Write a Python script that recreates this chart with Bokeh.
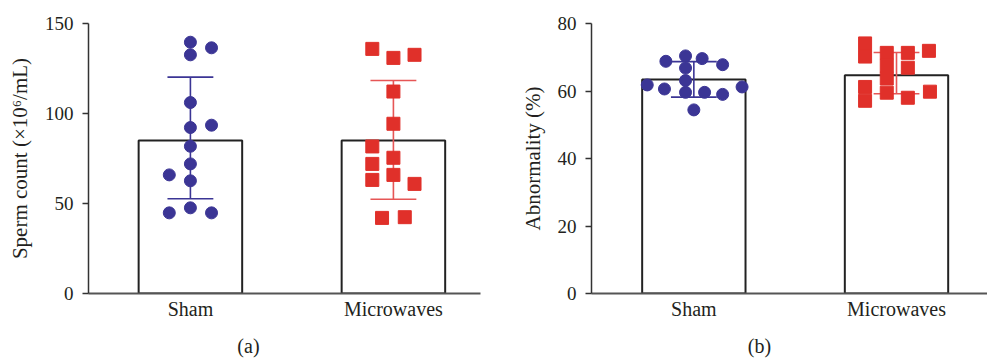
from bokeh.plotting import figure
from bokeh.layouts import row
from bokeh.models import LinearAxis, Range1d, FixedTicker
from bokeh.embed import file_html
from bokeh.resources import INLINE

groups = ["Sham", "Microwaves"]

# Panel (a) sperm count (x10^6/mL)
count_sham = [139.6, 136.5, 132.6, 106.1, 93.5, 92.2, 81.8, 72.0, 65.9, 62.6, 47.6, 44.8, 44.8]
count_micro = [135.9, 130.9, 132.6, 112.2, 94.3, 81.7, 72.0, 75.4, 63.1, 65.9, 60.9, 42.0, 42.4]
count_mean = [85.0, 85.0]
count_low = [52.6, 52.4]
count_high = [120.2, 118.3]

# Panel (b) abnormality (%)
abn_sham = [61.8, 68.8, 70.4, 69.6, 67.8, 66.8, 63.1, 60.6, 59.6, 59.6, 59.0, 61.2, 54.4]
abn_micro = [74.1, 70.2, 71.3, 67.5, 63.7, 59.5, 71.3, 66.9, 58.0, 71.9, 59.8, 61.2, 57.1]
abn_mean = [63.4, 64.7]
abn_low = [58.2, 59.2]
abn_high = [68.7, 71.4]

# horizontal scatter offsets (category units) -- layout only
off_a_sham = [0, 0.104, 0, 0, 0.104, 0, 0, 0, -0.104, 0, 0, -0.104, 0.104]
off_a_micro = [-0.104, 0, 0.104, 0, 0, -0.104, -0.104, 0, -0.104, 0, 0.104, -0.056, 0.056]
off_b_sham = [-0.23, -0.138, -0.041, 0.041, 0.142, -0.041, -0.041, -0.145, -0.041, 0.053, 0.142, 0.238, 0]
off_b_micro = [-0.155, -0.155, -0.048, -0.048, -0.048, -0.048, 0.056, 0.056, 0.056, 0.16, 0.165, -0.155, -0.155]

BLUE = "#3b3595"
RED = "#e0302a"
RED_ERR = "#e65656"
FONT = "Liberation Serif"
TXT = "#231f20"


def panel(width, left, right, xr, ymax, ticks, ylabel, sham, micro, off_s, off_m,
          mean, low, high, caption, cap_x):
    p = figure(width=width, height=359, output_backend="svg", toolbar_location=None,
               x_range=Range1d(*xr), y_range=Range1d(0, ymax),
               min_border_left=left, min_border_right=right,
               min_border_top=23, min_border_bottom=66)
    p.outline_line_color = None
    p.xgrid.visible = False
    p.ygrid.visible = False
    p.background_fill_color = "white"
    p.border_fill_color = "white"

    xs = [1, 2]
    p.vbar(x=xs, top=mean, bottom=0, width=0.51, fill_color="white",
           line_color="#222222", line_width=2)

    cols = [BLUE, RED_ERR]
    for i, x in enumerate(xs):
        p.segment(x0=[x], y0=[low[i]], x1=[x], y1=[high[i]], line_color=cols[i], line_width=1.6)
        p.segment(x0=[x - 0.113, x - 0.113], y0=[low[i], high[i]],
                  x1=[x + 0.113, x + 0.113], y1=[low[i], high[i]],
                  line_color=cols[i], line_width=1.6)

    p.scatter(x=[1 + o for o in off_s], y=sham, marker="circle", size=12,
              fill_color=BLUE, line_color=BLUE)
    p.scatter(x=[2 + o for o in off_m], y=micro, marker="square", size=13,
              fill_color=RED, line_color=RED)

    p.xaxis.ticker = FixedTicker(ticks=xs)
    p.xaxis.major_label_overrides = {1: groups[0], 2: groups[1]}
    p.xaxis.major_tick_line_color = None
    p.xaxis.major_tick_out = 0
    p.xaxis.major_tick_in = 0
    p.xaxis.minor_tick_line_color = None
    p.xaxis.major_label_standoff = 4
    p.xaxis.axis_line_color = "#555555"
    p.xaxis.axis_line_width = 2
    p.xaxis.major_label_text_font = FONT
    p.xaxis.major_label_text_font_size = "20px"
    p.xaxis.major_label_text_color = TXT

    p.yaxis.ticker = FixedTicker(ticks=ticks)
    p.yaxis.minor_tick_line_color = None
    p.yaxis.major_tick_out = 6
    p.yaxis.major_tick_in = 0
    p.yaxis.major_tick_line_color = "#333333"
    p.yaxis.major_tick_line_width = 1.5
    p.yaxis.axis_line_color = "#333333"
    p.yaxis.axis_line_width = 1.5
    p.yaxis.major_label_standoff = 9
    p.yaxis.major_label_text_font = FONT
    p.yaxis.major_label_text_font_size = "19px"
    p.yaxis.major_label_text_color = TXT
    p.yaxis.axis_label = ylabel
    p.yaxis.axis_label_text_font = FONT
    p.yaxis.axis_label_text_font_style = "normal"
    p.yaxis.axis_label_text_font_size = "21px"
    p.yaxis.axis_label_text_color = TXT
    p.yaxis.axis_label_standoff = 10

    # panel caption, drawn as the single label of a bare extra axis below
    cap = LinearAxis(ticker=FixedTicker(ticks=[cap_x]),
                     major_label_overrides={cap_x: caption},
                     axis_line_color=None, major_tick_line_color=None,
                     minor_tick_line_color=None, major_tick_out=0, major_tick_in=0,
                     minor_tick_out=0, major_label_standoff=12,
                     major_label_text_font=FONT, major_label_text_font_size="20px",
                     major_label_text_color=TXT)
    p.add_layout(cap, "below")
    return p


pa = panel(493, 88, 13, (0.498, 2.429), 150, [0, 50, 100, 150],
           "Sperm count (×10⁶/mL)", count_sham, count_micro, off_a_sham, off_a_micro,
           count_mean, count_low, count_high, "(a)", 1.286)
pb = panel(494, 98, 0, (0.495, 2.449), 80, [0, 20, 40, 60, 80],
           "Abnormality (%)", abn_sham, abn_micro, off_b_sham, off_b_micro,
           abn_mean, abn_low, abn_high, "(b)", 1.324)

layout = row(pa, pb)
open("out.html", "w").write(file_html(layout, INLINE))
